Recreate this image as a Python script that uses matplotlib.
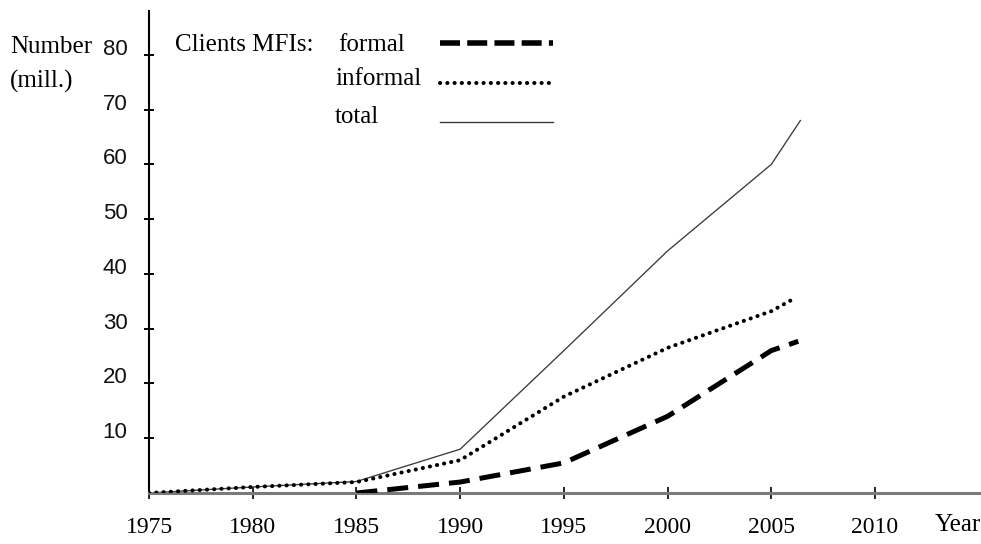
import matplotlib
matplotlib.use("Agg")
import matplotlib.pyplot as plt

# ---- data ----
years_formal = [1985, 1990, 1995, 2000, 2005, 2006.3]
formal = [0, 2, 5.5, 14, 26, 27.7]

years_informal = [1975, 1980, 1985, 1990, 1995, 2000, 2005, 2006.1]
informal = [0, 1.1, 2, 6, 17.6, 26.5, 33.2, 35.5]

years_total = [1975, 1980, 1985, 1990, 1995, 2000, 2005, 2006.4]
total = [0, 1.1, 2.1, 8, 26, 44.2, 60, 68]

x_ticks = [1975, 1980, 1985, 1990, 1995, 2000, 2005, 2010]
y_ticks = [10, 20, 30, 40, 50, 60, 70, 80]
series_labels = ["formal", "informal", "total"]

W, H, DPI = 981, 544, 100
fig = plt.figure(figsize=(W / DPI, H / DPI), dpi=DPI)
ax = fig.add_axes([149 / W, (H - 493) / H, (980 - 149) / W, (493 - 11) / H])

serif = ["Liberation Serif", "DejaVu Serif"]
sans = ["Liberation Sans", "DejaVu Sans"]

l_total, = ax.plot(years_total, total, color="#3a3a3a", lw=0.95, zorder=2)
l_inf, = ax.plot(years_informal, informal, color="black", lw=2.9,
                 linestyle=(0, (0.05, 1.75)), dash_capstyle="round", zorder=3)
l_for, = ax.plot(years_formal, formal, color="black", lw=3.6,
                 linestyle=(0, (4.2, 2.0)), dash_capstyle="butt", zorder=4)

ax.set_xlim(1975, 2015.06)
ax.set_ylim(0, 88)

for s in ["top", "right"]:
    ax.spines[s].set_visible(False)
ax.spines["left"].set_linewidth(1.5)
ax.spines["left"].set_color("black")
ax.spines["bottom"].set_linewidth(2.2)
ax.spines["bottom"].set_color("#7a7a7a")
ax.spines["left"].set_zorder(1)

ax.set_xticks(x_ticks)
ax.set_xticklabels([str(v) for v in x_ticks], fontfamily=serif, fontsize=17)
ax.set_yticks(y_ticks)
ax.set_yticklabels([str(v) for v in y_ticks], fontfamily=sans, fontsize=16, color="#111111")
for lab in ax.get_yticklabels():
    lab.set_va("baseline")
ax.tick_params(axis="x", direction="inout", length=8, width=1.2, pad=13, colors="black")
ax.tick_params(axis="y", direction="inout", length=7, width=1.4, pad=12)

# axis captions
fig.text(10 / W, 1 - 36 / H, "Number\n(mill.)", fontfamily=serif, fontsize=18,
         ha="left", va="top", linespacing=1.65)
fig.text(935 / W, 1 - 525 / H, "Year", fontfamily=serif, fontsize=18,
         ha="left", va="center")
fig.text(175 / W, 1 - 45 / H, "Clients MFIs:", fontfamily=serif, fontsize=18,
         ha="left", va="center")

# legend: handles only, labels as texts to keep them left aligned
leg = fig.legend([l_for, l_inf, l_total], ["", "", ""], loc="upper left",
                 bbox_to_anchor=(440 / W, 1 - 33 / H), frameon=False,
                 fontsize=18, handlelength=4.5, handletextpad=0,
                 borderpad=0, borderaxespad=0, labelspacing=0.62)
lines = leg.get_lines()
lines[0].set_linewidth(4.0)
lines[0].set_linestyle((0, (3.6, 1.3)))
lines[1].set_linewidth(2.9)
lines[2].set_linewidth(1.0)

label_y = [45, 79, 117]
label_x = [338, 335, 335]
for lab, lx, ly in zip(series_labels, label_x, label_y):
    fig.text(lx / W, 1 - ly / H, lab, fontfamily=serif, fontsize=18,
             ha="left", va="center")

fig.savefig("out.png", dpi=DPI)
